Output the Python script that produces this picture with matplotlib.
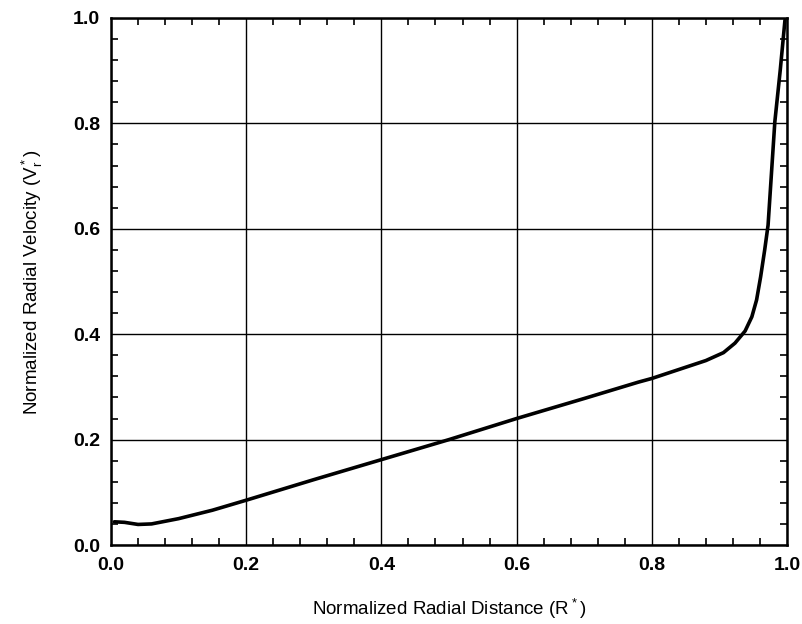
import matplotlib
matplotlib.use("Agg")
import matplotlib.pyplot as plt
from matplotlib.ticker import MultipleLocator

r_star = [0.005, 0.02, 0.04, 0.06, 0.10, 0.15, 0.20, 0.30, 0.40, 0.50, 0.60, 0.70,
          0.78, 0.80, 0.84, 0.88, 0.906, 0.923, 0.938, 0.948, 0.955, 0.961, 0.967,
          0.972, 0.982, 0.990, 0.997]
v_star = [0.044, 0.043, 0.039, 0.040, 0.050, 0.066, 0.085, 0.124, 0.162, 0.200,
          0.240, 0.278, 0.309, 0.316, 0.333, 0.350, 0.365, 0.383, 0.406, 0.433,
          0.465, 0.509, 0.560, 0.607, 0.803, 0.901, 0.996]

x_ticks = [0.0, 0.2, 0.4, 0.6, 0.8, 1.0]
y_ticks = [0.0, 0.2, 0.4, 0.6, 0.8, 1.0]

plt.rcParams['font.family'] = ['Liberation Sans', 'DejaVu Sans']
plt.rcParams['mathtext.fontset'] = 'custom'
plt.rcParams['mathtext.rm'] = 'Liberation Sans'

fig = plt.figure(figsize=(8.03, 6.24), dpi=100)
W, H = 803, 624
left, right, top, bottom = 111, 787, 18, 545
ax = fig.add_axes([left / W, 1 - bottom / H, (right - left) / W, (bottom - top) / H])

ax.plot(r_star, v_star, color='black', lw=2.6, solid_capstyle='round',
        solid_joinstyle='round')

ax.set_xlim(0, 1)
ax.set_ylim(0, 1)
ax.set_xticks(x_ticks)
ax.set_yticks(y_ticks)
ax.set_xticklabels([f"{t:.1f}" for t in x_ticks], fontsize=14, fontweight='bold')
ax.set_yticklabels([f"{t:.1f}" for t in y_ticks], fontsize=14, fontweight='bold')
ax.xaxis.set_minor_locator(MultipleLocator(0.04))
ax.yaxis.set_minor_locator(MultipleLocator(0.04))
ax.tick_params(which='both', direction='in', top=True, right=True, color='black')
ax.tick_params(which='major', length=0, pad=9)
ax.tick_params(axis='y', which='major', pad=8)
ax.tick_params(which='minor', length=5, width=1.2)
ax.grid(True, which='major', color='black', lw=1.0)

for s in ax.spines.values():
    s.set_linewidth(1.8)
    s.set_color('black')

ax.set_xlabel(r"Normalized Radial Distance (R$\mathregular{^*}$)", fontsize=13.5, labelpad=16)
ax.set_ylabel(r"Normalized Radial Velocity (V$\mathregular{_r^*}$)", fontsize=13.5, labelpad=20)

fig.savefig("out.png", dpi=100)
